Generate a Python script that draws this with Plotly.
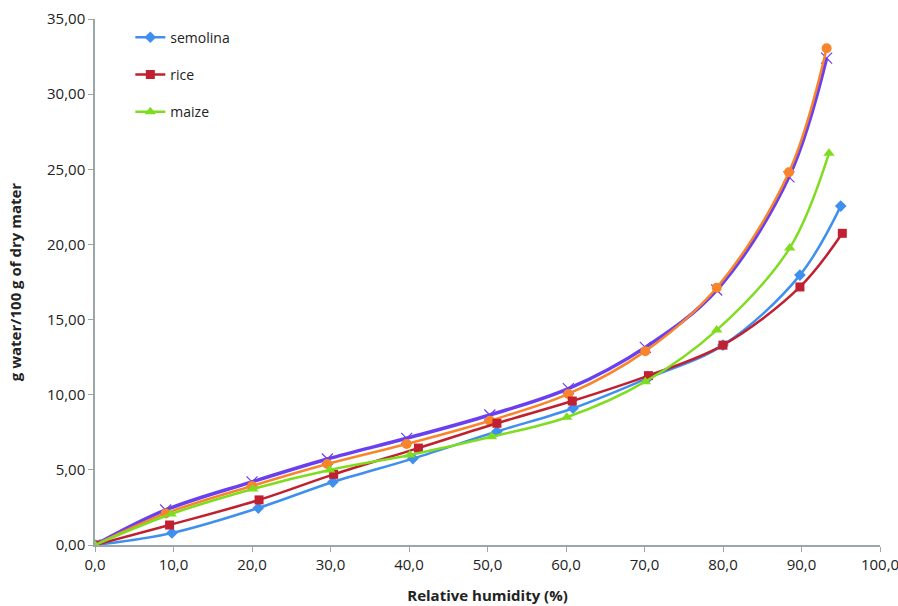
import plotly.graph_objects as go

# Data
semolina_x = [0.0, 9.8, 20.8, 30.3, 40.5, 51.2, 60.9, 70.4, 80.0, 89.8, 95.0]
semolina_y = [0.0, 0.80, 2.46, 4.19, 5.75, 7.55, 9.10, 11.10, 13.30, 17.96, 22.55]

rice_x = [0.0, 9.5, 20.9, 30.4, 41.2, 51.2, 60.8, 70.5, 80.0, 89.8, 95.2]
rice_y = [0.0, 1.33, 3.00, 4.70, 6.45, 8.10, 9.58, 11.27, 13.30, 17.17, 20.74]

maize_x = [0.0, 9.7, 20.1, 29.9, 40.1, 50.5, 60.1, 70.1, 79.2, 88.5, 93.5]
maize_y = [0.0, 2.06, 3.73, 4.99, 5.99, 7.20, 8.50, 10.87, 14.30, 19.76, 26.06]

model_x = [0.0, 9.0, 20.0, 29.6, 39.7, 50.3, 60.3, 70.1, 79.2, 88.4, 93.2]
model_y = [0.0, 2.33, 4.20, 5.72, 7.10, 8.65, 10.40, 13.15, 16.97, 24.50, 32.40]

orange_x = [0.0, 9.0, 20.0, 29.6, 39.7, 50.3, 60.3, 70.1, 79.2, 88.4, 93.2]
orange_y = [0.0, 2.10, 3.93, 5.39, 6.72, 8.27, 10.05, 12.90, 17.12, 24.80, 33.05]

x_ticks = [0, 10, 20, 30, 40, 50, 60, 70, 80, 90, 100]
y_ticks = [0, 5, 10, 15, 20, 25, 30, 35]

FONT = "Open Sans"

fig = go.Figure()

fig.add_trace(go.Scatter(
    x=model_x, y=model_y, mode="lines+markers", name="model",
    showlegend=False,
    line=dict(color="#6a3ff0", width=3.5, shape="spline", smoothing=1.0),
    marker=dict(symbol="x-thin", size=11, line=dict(color="#6a3ff0", width=1.2)),
))
fig.add_trace(go.Scatter(
    x=orange_x, y=orange_y, mode="lines+markers", name="orange",
    showlegend=False,
    line=dict(color="#f9852a", width=2.5, shape="spline", smoothing=1.0),
    marker=dict(symbol="circle", size=10, color="#f9852a"),
))
fig.add_trace(go.Scatter(
    x=semolina_x, y=semolina_y, mode="lines+markers", name="semolina",
    legendgroup="a",
    line=dict(color="#3f8fef", width=2.5, shape="spline", smoothing=1.0),
    marker=dict(symbol="diamond", size=9, color="#3f8fef"),
))
fig.add_trace(go.Scatter(
    x=rice_x, y=rice_y, mode="lines+markers", name="rice",
    legendgroup="b",
    line=dict(color="#c0202f", width=2.5, shape="spline", smoothing=1.0),
    marker=dict(symbol="square", size=9, color="#c0202f"),
))
fig.add_trace(go.Scatter(
    x=maize_x, y=maize_y, mode="lines+markers", name="maize",
    legendgroup="c",
    line=dict(color="#7fdc1f", width=2.5, shape="spline", smoothing=1.0),
    marker=dict(symbol="triangle-up", size=10, color="#7fdc1f"),
))

fig.update_layout(
    width=898, height=606,
    margin=dict(l=95, r=18, t=19, b=61, autoexpand=False),
    paper_bgcolor="white", plot_bgcolor="white",
    separators=", ",
    font=dict(family=FONT, size=15, color="#222222"),
    legend=dict(
        x=0.045, y=0.995, xanchor="left", yanchor="top",
        bgcolor="rgba(0,0,0,0)", font=dict(size=14, family=FONT),
        tracegroupgap=16, traceorder="grouped",
    ),
    xaxis=dict(
        range=[0, 100], tickvals=x_ticks, tickformat=".1f",
        showgrid=False, zeroline=False, automargin=False,
        ticklabeloverflow="allow",
        showline=True, linecolor="#9aa6a8", linewidth=1.5,
        ticks="outside", ticklen=5, tickcolor="#9aa6a8",
        tickfont=dict(size=15, family=FONT),
        title=dict(text="<b>Relative humidity (%)</b>", font=dict(size=15, family=FONT), standoff=18),
    ),
    yaxis=dict(
        range=[0, 35], tickvals=y_ticks, tickformat=".2f",
        showgrid=False, zeroline=False, automargin=False,
        ticklabeloverflow="allow",
        showline=True, linecolor="#9aa6a8", linewidth=1.5,
        ticks="outside", ticklen=5, tickcolor="#9aa6a8",
        tickfont=dict(size=15, family=FONT),
        title=dict(text="<b>g water/100 g of dry mater</b>", font=dict(size=15, family=FONT), standoff=22),
    ),
)

fig.write_html("out.html")
